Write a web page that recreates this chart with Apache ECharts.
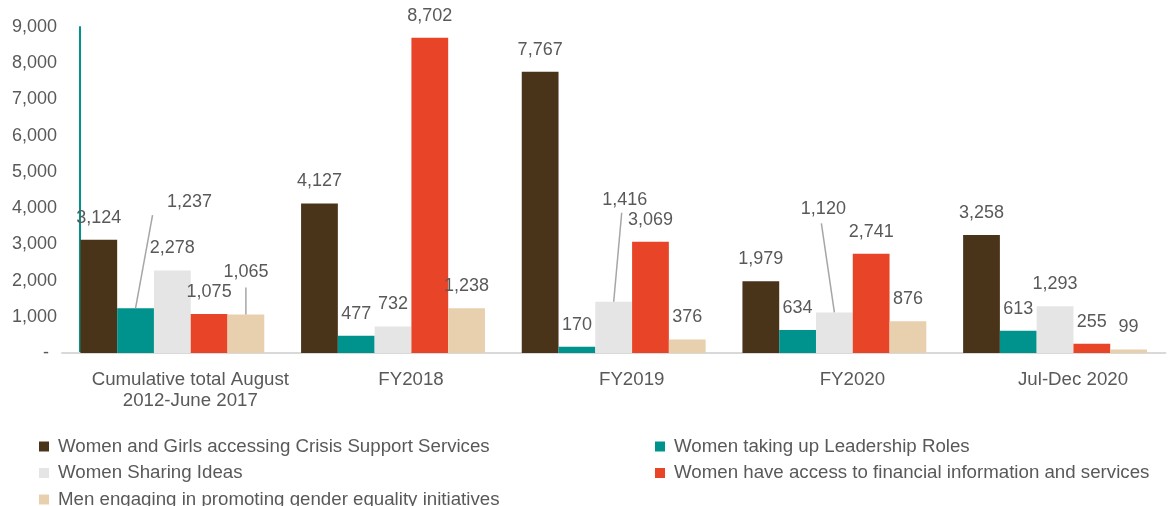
<!DOCTYPE html>
<html>
<head>
<meta charset="utf-8">
<script src="https://cdn.jsdelivr.net/npm/echarts@6/dist/echarts.min.js"></script>
<style>html,body{margin:0;padding:0;background:#fff}#c{width:1173px;height:506px}</style>
</head>
<body>
<div id="c"></div>
<script>
var categories = ["Cumulative total August\n2012-June 2017", "FY2018", "FY2019", "FY2020", "Jul-Dec 2020"];
var seriesNames = [
  "Women and Girls accessing Crisis Support Services",
  "Women taking up Leadership Roles",
  "Women Sharing Ideas",
  "Women have access to financial information and services",
  "Men engaging in promoting gender equality initiatives"
];
var crisisSupport = [3124, 4127, 7767, 1979, 3258];
var leadership = [1237, 477, 170, 634, 613];
var sharingIdeas = [2278, 732, 1416, 1120, 1293];
var financialAccess = [1075, 8702, 3069, 2741, 255];
var menEngaging = [1065, 1238, 376, 876, 99];
var yTicks = [0, 1000, 2000, 3000, 4000, 5000, 6000, 7000, 8000, 9000];

var colors = ["#4a3419", "#00928c", "#e5e5e5", "#e84528", "#e8d0ae"];
var allValues = [crisisSupport, leadership, sharingIdeas, financialAccess, menEngaging];

// callout labels: series index, data index -> label move (dx,dy) and leader end offset (lx,ly)
var callouts = [
  {s: 1, d: 0, dx: 54, dy: -84, lx: 17, ly: -93},
  {s: 4, d: 0, dx: 0, dy: -20, lx: 0, ly: -27},
  {s: 2, d: 2, dx: 11, dy: -80, lx: 8, ly: -89},
  {s: 2, d: 3, dx: -11, dy: -81, lx: -13, ly: -89}
];
function findCallout(s, d) {
  for (var i = 0; i < callouts.length; i++) if (callouts[i].s === s && callouts[i].d === d) return callouts[i];
  return null;
}

var textColor = "#595959";
var font = "Liberation Sans, Arial, sans-serif";

var series = allValues.map(function (vals, si) {
  return {
    name: seriesNames[si],
    type: "bar",
    barGap: "0%",
    barCategoryGap: "16.67%",
    itemStyle: {color: colors[si]},
    label: {
      show: true,
      position: "top",
      distance: 13,
      color: textColor,
      fontSize: 18,
      fontFamily: font,
      formatter: function (p) { return p.value.toLocaleString("en-US"); }
    },
    labelLayout: function (p) {
      var c = findCallout(p.seriesIndex, p.dataIndex);
      return c ? {dx: c.dx, dy: c.dy} : {};
    },
    data: vals
  };
});

// leader lines from the top of the called-out bars
series.push({
  type: "custom",
  silent: true,
  z: 5,
  encode: {x: 0, y: 1},
  data: callouts.map(function (c) { return [c.d, allValues[c.s][c.d], c.s, c.lx, c.ly]; }),
  renderItem: function (params, api) {
    var pt = api.coord([api.value(0), api.value(1)]);
    var band = api.size([1, 0])[0];
    var w = band * (1 - 1 / 6) / 5;
    var x0 = pt[0] + (api.value(2) - 2) * w;
    var y0 = pt[1];
    return {
      type: "line",
      shape: {x1: x0, y1: y0, x2: x0 + api.value(3), y2: y0 + api.value(4)},
      style: {stroke: "#a6a6a6", lineWidth: 1.5}
    };
  }
});

var chart = echarts.init(document.getElementById("c"), null, {renderer: "canvas"});
chart.setOption({
  animation: false,
  color: colors,
  textStyle: {fontFamily: font},
  grid: {left: 62, right: 7.6, top: 27, bottom: 153, containLabel: false},
  legend: [
    {
      data: [seriesNames[0], seriesNames[2], seriesNames[4]],
      orient: "vertical",
      left: 34, top: 432, height: 150,
      itemWidth: 10, itemHeight: 10, itemGap: 7.5,
      icon: "rect",
      textStyle: {color: textColor, fontSize: 18.7, lineHeight: 18, fontFamily: font, padding: [0, 0, 0, 4]}
    },
    {
      data: [seriesNames[1], seriesNames[3]],
      orient: "vertical",
      left: 650, top: 432, height: 150,
      itemWidth: 10, itemHeight: 10, itemGap: 7.5,
      icon: "rect",
      textStyle: {color: textColor, fontSize: 18.7, lineHeight: 18, fontFamily: font, padding: [0, 0, 0, 4]}
    }
  ],
  xAxis: {
    type: "category",
    data: categories,
    axisLine: {show: true, lineStyle: {color: "#d9d9d9", width: 2}},
    axisTick: {show: false},
    axisLabel: {
      color: textColor, fontSize: 18.7, fontFamily: font, margin: 16,
      lineHeight: 21, padding: [0, 0, 0, 36], interval: 0
    }
  },
  yAxis: {
    type: "value",
    min: yTicks[0],
    max: yTicks[yTicks.length - 1],
    interval: 1000,
    offset: -18,
    axisLine: {show: true, lineStyle: {color: "#00928c", width: 2}},
    axisTick: {show: false},
    splitLine: {show: false},
    axisLabel: {
      color: textColor, fontSize: 18, fontFamily: font, margin: 23,
      formatter: function (v) { return v === 0 ? "{z|-}" : v.toLocaleString("en-US"); },
      rich: {z: {color: textColor, fontSize: 18, fontFamily: font, padding: [0, 8, 0, 0]}}
    }
  },
  series: series
});
</script>
</body>
</html>
